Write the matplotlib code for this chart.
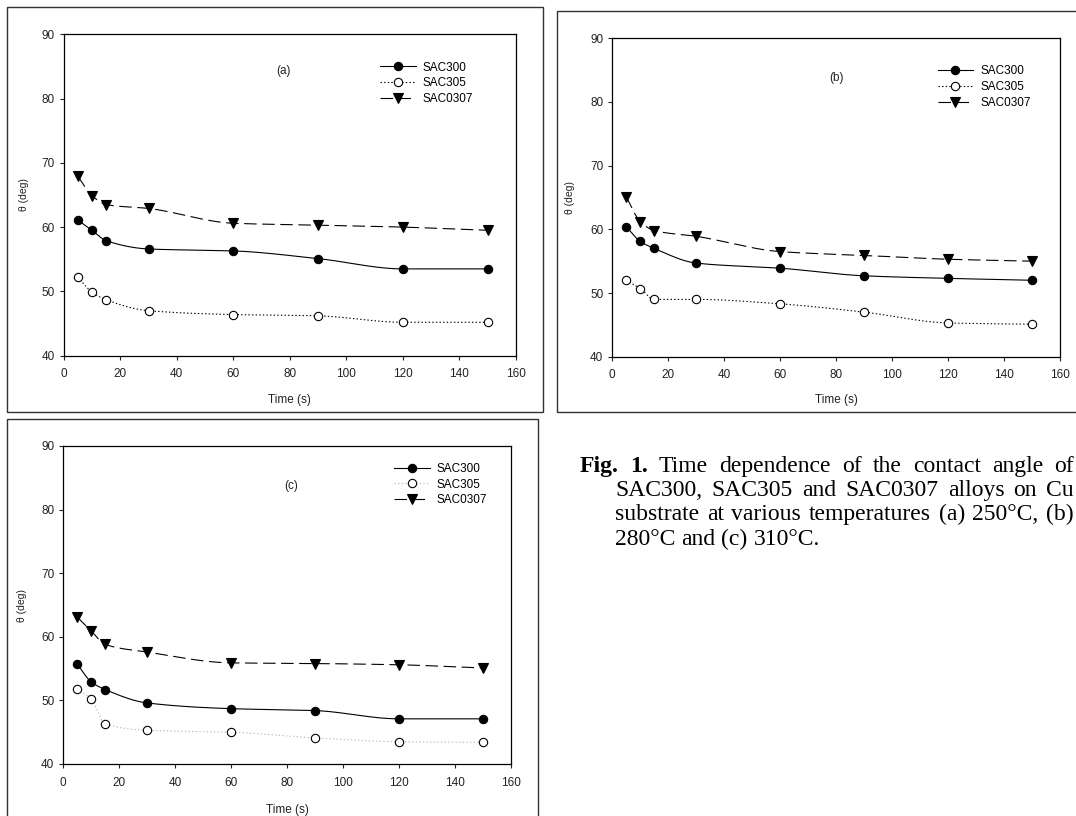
import numpy as np
import matplotlib
matplotlib.use("Agg")
from matplotlib import pyplot as plt
from matplotlib.lines import Line2D
from matplotlib.patches import Rectangle

# contact angle (deg) vs time
time_s = [5, 10, 15, 30, 60, 90, 120, 150]

a_sac300 = [61.1, 59.5, 57.9, 56.6, 56.3, 55.1, 53.5, 53.5]
a_sac305 = [52.2, 49.9, 48.7, 47.0, 46.4, 46.2, 45.2, 45.2]
a_sac0307 = [67.9, 64.9, 63.5, 62.9, 60.6, 60.3, 60.0, 59.5]

b_sac300 = [60.4, 58.1, 57.0, 54.7, 53.9, 52.7, 52.3, 52.0]
b_sac305 = [52.0, 50.7, 49.0, 49.0, 48.3, 47.0, 45.3, 45.1]
b_sac0307 = [65.1, 61.2, 59.8, 58.9, 56.5, 55.9, 55.3, 55.0]

c_sac300 = [55.7, 52.9, 51.7, 49.6, 48.7, 48.4, 47.1, 47.1]
c_sac305 = [51.8, 50.2, 46.3, 45.3, 45.0, 44.1, 43.5, 43.4]
c_sac0307 = [63.1, 60.9, 58.8, 57.6, 55.9, 55.8, 55.6, 55.1]

series_names = ["SAC300", "SAC305", "SAC0307"]
x_ticks = [0, 20, 40, 60, 80, 100, 120, 140, 160]
y_ticks = [40, 50, 60, 70, 80, 90]

caption_lines = [
    "Fig. 1. Time dependence of the contact angle of",
    "SAC300, SAC305 and SAC0307 alloys on Cu",
    "substrate at various temperatures (a) 250°C, (b)",
    "280°C and (c) 310°C.",
]

plt.rcParams["font.family"] = ["Liberation Sans", "DejaVu Sans"]
plt.rcParams["lines.scale_dashes"] = False

W, H = 1076, 816
fig = plt.figure(figsize=(W / 100, H / 100), dpi=100)


def px_rect(x0, y0, x1, y1):
    # pixel box (top-left origin) -> figure fraction rect
    return [x0 / W, 1 - y1 / H, (x1 - x0) / W, (y1 - y0) / H]


def smooth(x, y, n=300):
    # monotone cubic (pchip) curve through the points, like the spline in the source
    x = np.asarray(x, float)
    y = np.asarray(y, float)
    h = np.diff(x)
    d = np.diff(y) / h
    m = np.zeros(len(x))
    m[0], m[-1] = d[0], d[-1]
    for k in range(1, len(x) - 1):
        if d[k - 1] * d[k] > 0:
            w1 = 2 * h[k] + h[k - 1]
            w2 = h[k] + 2 * h[k - 1]
            m[k] = (w1 + w2) / (w1 / d[k - 1] + w2 / d[k])
    xs = np.linspace(x[0], x[-1], n)
    i = np.clip(np.searchsorted(x, xs) - 1, 0, len(x) - 2)
    t = (xs - x[i]) / h[i]
    h00 = 2 * t**3 - 3 * t**2 + 1
    h10 = t**3 - 2 * t**2 + t
    h01 = -2 * t**3 + 3 * t**2
    h11 = t**3 - t**2
    ys = h00 * y[i] + h10 * h[i] * m[i] + h01 * y[i + 1] + h11 * h[i] * m[i + 1]
    return xs, ys


def draw_panel(rect, data, tag, tag_pos, leg_pos, ylab_x, xlab_y, faint305=False):
    ax = fig.add_axes(rect)
    styles = [
        dict(ls="-", color="black", marker="o", mfc="black", ms=6),
        dict(ls=(0, (1, 1.6)), color="#bbbbbb" if faint305 else "black",
             marker="o", mfc="white", ms=6),
        dict(ls=(0, (9, 4)), color="black", marker="v", mfc="black", ms=6.5),
    ]
    handles = []
    for vals, st in zip(data, styles):
        xs, ys = smooth(time_s, vals)
        ax.plot(xs, ys, ls=st["ls"], color=st["color"], lw=0.8)
        ax.plot(time_s, vals, ls="none", marker=st["marker"], ms=st["ms"],
                mfc=st["mfc"], mec="black", mew=0.8)
        handles.append(Line2D([], [], ls=st["ls"], color=st["color"], lw=0.8,
                              marker=st["marker"], ms=st["ms"], mfc=st["mfc"],
                              mec="black", mew=0.8))
    ax.set_xlim(0, 160)
    ax.set_ylim(40, 90)
    ax.set_xticks(x_ticks)
    ax.set_yticks(y_ticks)
    ax.tick_params(direction="out", length=3, width=0.8, labelsize=8.5,
                   colors="#222222")
    ax.tick_params(axis="x", pad=6)
    ax.tick_params(axis="y", pad=3.5)
    for sp in ax.spines.values():
        sp.set_linewidth(0.9)
    ax.set_xlabel("Time (s)", fontsize=8.5, color="#222222")
    ax.set_ylabel("θ (deg)", fontsize=7.5, color="#222222")
    ax.xaxis.set_label_coords(0.5, xlab_y)
    ax.yaxis.set_label_coords(ylab_x, 0.5)
    ax.text(tag_pos[0], tag_pos[1], tag, transform=ax.transAxes, fontsize=8.5,
            ha="center", va="center", color="#222222")
    ax.legend(handles, series_names, loc="upper left", bbox_to_anchor=leg_pos,
              frameon=False, fontsize=8.5, handlelength=3.0, handletextpad=0.6,
              labelspacing=0.32, borderpad=0, borderaxespad=0, numpoints=1)
    return ax


draw_panel(px_rect(63.7, 34.2, 516, 355.7), [a_sac300, a_sac305, a_sac0307],
           "(a)", (0.485, 0.885), (0.70, 0.915), -0.077, -0.119)
draw_panel(px_rect(612.3, 38.2, 1059.7, 356.7), [b_sac300, b_sac305, b_sac0307],
           "(b)", (0.50, 0.875), (0.727, 0.915), -0.083, -0.117)
draw_panel(px_rect(63.3, 446, 511, 764), [c_sac300, c_sac305, c_sac0307],
           "(c)", (0.509, 0.875), (0.739, 0.947), -0.082, -0.125, faint305=True)

# frames around each sub-figure
for x0, y0, x1, y1 in [(7, 7, 543, 412), (557, 11, 1085, 412), (7, 419, 538, 830)]:
    fig.patches.append(Rectangle((x0 / W, 1 - y1 / H), (x1 - x0) / W, (y1 - y0) / H,
                                 transform=fig.transFigure, fill=False,
                                 edgecolor="#333333", lw=1.0))

# justified caption
renderer = fig.canvas.get_renderer()
cap_x0, cap_x_indent, cap_x1 = 580, 615, 1074
cap_y = [472, 496, 520, 545]
serif = ["Liberation Serif", "DejaVu Serif"]
cap_size = 17
for n, line in enumerate(caption_lines):
    words = line.split(" ")
    texts = []
    for k, w in enumerate(words):
        bold = n == 0 and k < 2
        texts.append(fig.text(0, 1 - cap_y[n] / H, w, fontsize=cap_size, family=serif,
                              weight="bold" if bold else "normal", va="baseline"))
    widths = [t.get_window_extent(renderer).width for t in texts]
    left = cap_x0 if n == 0 else cap_x_indent
    if n < len(caption_lines) - 1:
        gap = (cap_x1 - left - sum(widths)) / (len(words) - 1)
    else:
        gap = cap_size * 100 / 72 * 0.25
    x = left
    for t, w in zip(texts, widths):
        t.set_x(x / W)
        x += w + gap

fig.savefig("out.png", dpi=100)
